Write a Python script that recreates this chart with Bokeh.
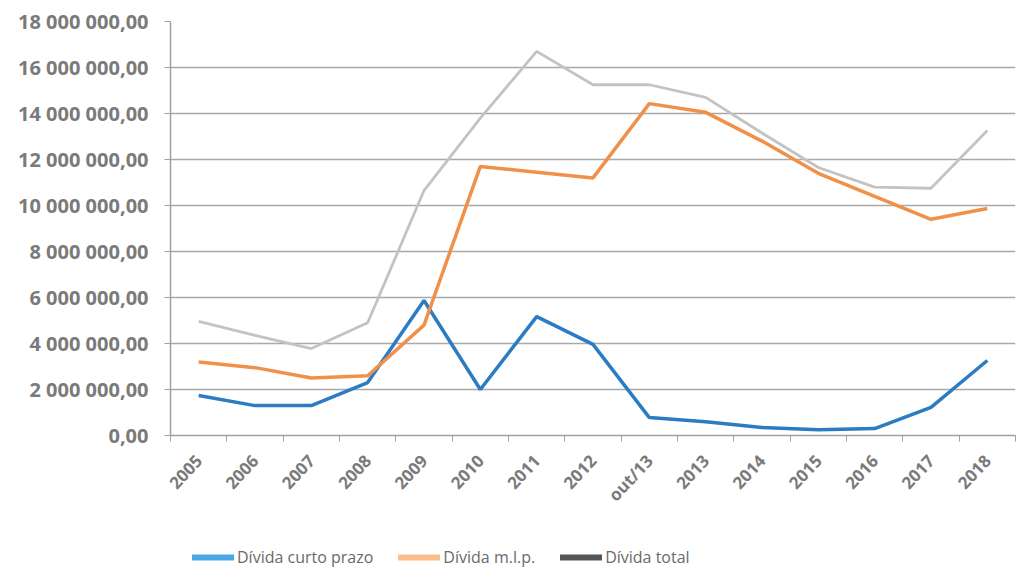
from bokeh.plotting import figure
from bokeh.layouts import column
from bokeh.models import Range1d, FixedTicker, Legend, LegendItem
from bokeh.embed import file_html
from bokeh.resources import INLINE

categories = ["2005", "2006", "2007", "2008", "2009", "2010", "2011", "2012",
              "out/13", "2013", "2014", "2015", "2016", "2017", "2018"]
divida_curto = [1.74e6, 1.30e6, 1.30e6, 2.30e6, 5.87e6, 2.00e6, 5.17e6, 3.96e6,
                0.78e6, 0.60e6, 0.35e6, 0.25e6, 0.30e6, 1.22e6, 3.26e6]
divida_mlp = [3.20e6, 2.95e6, 2.50e6, 2.60e6, 4.80e6, 11.70e6, 11.45e6, 11.20e6,
              14.43e6, 14.05e6, 12.80e6, 11.40e6, 10.40e6, 9.40e6, 9.87e6]
divida_total = [4.96e6, 4.35e6, 3.78e6, 4.90e6, 10.65e6, 13.80e6, 16.70e6, 15.25e6,
                15.25e6, 14.70e6, 13.15e6, 11.65e6, 10.80e6, 10.75e6, 13.26e6]
y_ticks = [0, 2e6, 4e6, 6e6, 8e6, 10e6, 12e6, 14e6, 16e6, 18e6]
y_tick_labels = ["0,00", "2 000 000,00", "4 000 000,00", "6 000 000,00", "8 000 000,00",
                 "10 000 000,00", "12 000 000,00", "14 000 000,00", "16 000 000,00",
                 "18 000 000,00"]
series_names = ["Dívida curto prazo", "Dívida m.l.p.", "Dívida total"]

xs = list(range(len(categories)))

FONT = "Open Sans"
GRAY = "#7a7a7a"

p = figure(frame_width=845, frame_height=414, output_backend="svg", toolbar_location=None,
           x_range=Range1d(-0.5, len(categories) - 0.5), y_range=Range1d(0, 18e6))
p.min_border_top = 21
p.min_border_right = 4
p.min_border_left = 170
p.min_border_bottom = 100
p.outline_line_color = None
p.background_fill_color = "white"

p.line(xs, divida_curto, line_color="#2b7cc2", line_width=3.5)
p.line(xs, divida_mlp, line_color="#f0914a", line_width=3.5)
p.line(xs, divida_total, line_color="#c3c3c3", line_width=2.8)

p.xgrid.grid_line_color = None
p.ygrid.grid_line_color = "#a9a9a9"
p.ygrid.grid_line_width = 1.5
p.ygrid.ticker = FixedTicker(ticks=y_ticks)

p.yaxis.ticker = FixedTicker(ticks=y_ticks)
p.yaxis.major_label_overrides = {t: s for t, s in zip(y_ticks, y_tick_labels)}
p.yaxis.major_label_text_font = FONT
p.yaxis.major_label_text_font_style = "bold"
p.yaxis.major_label_text_font_size = "20px"
p.yaxis.major_label_text_color = GRAY
p.yaxis.axis_line_color = "#a0a0a0"
p.yaxis.axis_line_width = 1.5
p.yaxis.major_tick_line_color = "#a0a0a0"
p.yaxis.major_tick_in = 0
p.yaxis.major_tick_out = 6
p.yaxis.minor_tick_line_color = None
p.yaxis.major_label_standoff = 16

boundaries = [i - 0.5 for i in range(len(categories) + 1)]
p.xaxis.ticker = FixedTicker(ticks=xs, minor_ticks=boundaries)
p.xaxis.major_label_overrides = {i: c for i, c in enumerate(categories)}
p.xaxis.major_tick_line_color = None
p.xaxis.minor_tick_line_color = "#a0a0a0"
p.xaxis.minor_tick_in = 0
p.xaxis.minor_tick_out = 6
p.xaxis.axis_line_color = "#a0a0a0"
p.xaxis.axis_line_width = 1.5
p.xaxis.major_label_orientation = 0.82
p.xaxis.major_label_text_font = FONT
p.xaxis.major_label_text_font_style = "bold"
p.xaxis.major_label_text_font_size = "17px"
p.xaxis.major_label_text_color = GRAY
p.xaxis.major_label_standoff = 16

# separate strip below the chart holding the legend
pl = figure(width=1019, height=40, output_backend="svg", toolbar_location=None,
            x_range=Range1d(0, 1), y_range=Range1d(0, 1))
pl.axis.visible = False
pl.grid.visible = False
pl.outline_line_color = None
pl.min_border = 0
d_blue = pl.line([-5, -5], [-5, -5], line_color="#4aa8e8", line_width=6, line_cap="round")
d_orange = pl.line([-5, -5], [-5, -5], line_color="#fbbd8c", line_width=6, line_cap="round")
d_gray = pl.line([-5, -5], [-5, -5], line_color="#555555", line_width=6, line_cap="round")

legend = Legend(items=[LegendItem(label=series_names[0], renderers=[d_blue]),
                       LegendItem(label=series_names[1], renderers=[d_orange]),
                       LegendItem(label=series_names[2], renderers=[d_gray])],
                orientation="horizontal", location=(22, 7))
legend.label_text_font = FONT
legend.label_text_font_size = "16px"
legend.label_text_color = "#6a6a6a"
legend.glyph_width = 42
legend.label_standoff = 3
legend.spacing = 25
legend.border_line_color = None
legend.background_fill_alpha = 0
legend.margin = 0
legend.padding = 0
pl.add_layout(legend)

layout = column(p, pl, spacing=0)
open("out.html", "w").write(file_html(layout, INLINE))
